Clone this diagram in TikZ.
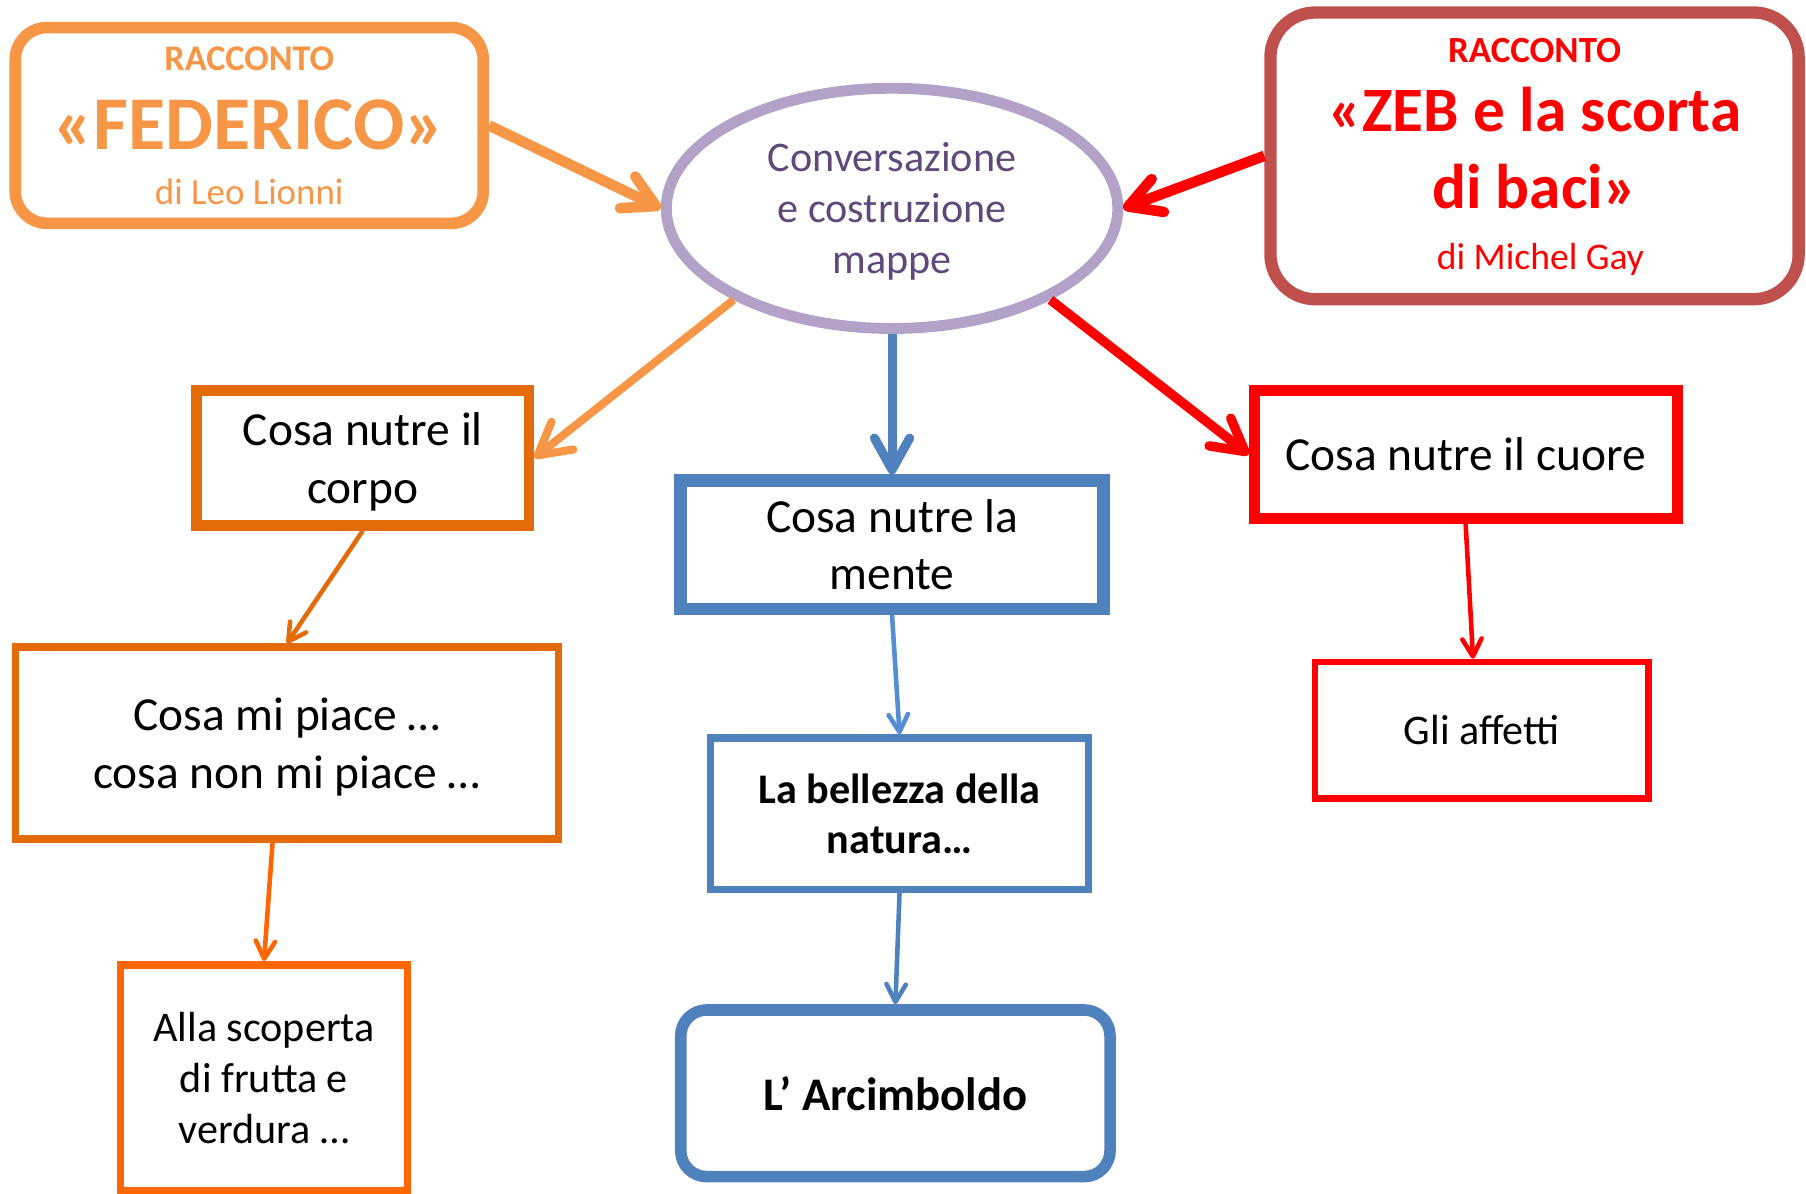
\documentclass[tikz,border=0pt]{standalone}
\usepackage{fontspec}
\setmainfont{Carlito}
\usetikzlibrary{arrows.meta,shapes.geometric}

\definecolor{fedorange}{HTML}{F79646}
\definecolor{corpoorange}{HTML}{E36C09}
\definecolor{allaorange}{HTML}{FF6600}
\definecolor{zebframe}{HTML}{C0504D}
\definecolor{vivid}{HTML}{FF0000}
\definecolor{lilac}{HTML}{B2A2C7}
\definecolor{plum}{HTML}{5F497A}
\definecolor{steel}{HTML}{4F81BD}
\definecolor{sky}{HTML}{558ED5}

\tikzset{
	box/.style={draw, rectangle, align=center, inner sep=0pt},
	bodytext/.style={font=\fontsize{13.5}{16.5}\selectfont},
	smalltext/.style={font=\fontsize{12}{14.5}\selectfont},
	thickbarb/.style={-{Straight Barb[length=9pt,width=10pt,round]}},
	thinbarb/.style={-{Straight Barb[length=5pt,width=5.5pt,round]}, line width=1.3pt}
}

\begin{document}
\begin{tikzpicture}[x=0.011518cm, y=-0.011518cm]
				\useasboundingbox (0,0) rectangle (1568,1036);
				
				\node[box, rounded corners=0.32cm, draw=fedorange, line width=3.3pt, minimum width=4.681cm, minimum height=1.958cm] (federico) at (216.4,108.9) {};
				\node[anchor=base, text=fedorange, font=\fontsize{10.3}{12}\selectfont\bfseries] (fedtag) at (216.4,61.6) {RACCONTO};
				\node[anchor=base, text=fedorange, font=\fontsize{21.6}{25}\selectfont\bfseries] (fedtitle) at (216.4,130.2) {«FEDERICO»};
				\node[anchor=base, text=fedorange, font=\fontsize{10.5}{12.5}\selectfont] (fedauthor) at (216.4,177.4) {di Leo Lionni};
				
				\node[box, rounded corners=0.45cm, draw=zebframe, line width=3.5pt, minimum width=5.283cm, minimum height=2.868cm] (zeb) at (1332.3,135.3) {};
				\node[anchor=base, text=vivid, font=\fontsize{10.5}{12.5}\selectfont\bfseries] (zebtag) at (1332.3,54.4) {RACCONTO};
				\node[anchor=base, text=vivid, font=\fontsize{18}{22}\selectfont\bfseries] (zebtitle) at (1332.6,114.3) {«ZEB e la scorta};
				\node[anchor=base, text=vivid, font=\fontsize{18}{22}\selectfont\bfseries] (zebtitletwo) at (1332.3,180.9) {di baci»};
				\node[anchor=base, text=vivid, font=\fontsize{10.7}{12.5}\selectfont] (zebauthor) at (1337.4,234.4) {di Michel Gay};
				
				\node[ellipse, draw=lilac, line width=3.1pt, minimum width=4.516cm, minimum height=2.403cm, align=center, text depth=0pt, text=plum, font=\fontsize{12}{14.5}\selectfont] (conv) at (774.5,180.9) {Conversazione\\e costruzione\\mappe};
				
				\node[box, bodytext, text depth=0pt, draw=corpoorange, line width=3.1pt, minimum width=3.325cm, minimum height=1.348cm] (corpo) at (315,397.5) {Cosa nutre il\\corpo};
				\node[box, bodytext, draw=steel, line width=3.5pt, minimum width=4.231cm, minimum height=1.285cm] (mente) at (774.5,472.9) {Cosa nutre la\\mente};
				\node[box, bodytext, draw=vivid, line width=3.1pt, minimum width=4.232cm, minimum height=1.283cm] (cuore) at (1272.5,394.5) {Cosa nutre il cuore};
				
				\node[box, bodytext, text depth=0pt, draw=corpoorange, line width=2.2pt, minimum width=5.433cm, minimum height=1.917cm] (piace) at (249.2,645.2) {Cosa mi piace …\\cosa non mi piace …};
				\node[box, smalltext, draw=allaorange, line width=2.2pt, minimum width=2.871cm, minimum height=2.259cm] (alla) at (229.2,935.8) {Alla scoperta\\di frutta e\\verdura …};
				
				\node[box, draw=steel, line width=2.1pt, minimum width=3.784cm, minimum height=1.515cm, font=\fontsize{12}{14.3}\selectfont\bfseries] (bellezza) at (781,706.5) {La bellezza della\\natura…};
				\node[box, rounded corners=0.26cm, draw=steel, line width=3.3pt, minimum width=4.294cm, minimum height=1.667cm, font=\fontsize{13.3}{16}\selectfont\bfseries] (arcimboldo) at (777.4,949.2) {L’ Arcimboldo};
				
				\node[box, smalltext, draw=vivid, line width=1.9pt, minimum width=3.333cm, minimum height=1.363cm] (affetti) at (1286.4,634) {Gli affetti};
				
				\draw[thickbarb, fedorange, line width=3pt] (federico.east) -- (conv.west);
				\draw[thickbarb, vivid, line width=3pt] (zeb.west) -- (conv.east);
				\draw[thickbarb, fedorange, line width=2.3pt] (conv.210) -- (corpo.east);
				\draw[thickbarb, steel, line width=2.6pt] (conv.south) -- (mente.north);
				\draw[thickbarb, vivid, line width=2.7pt] (conv.330) -- (cuore.west);
				
				\draw[thinbarb, corpoorange] (corpo.south) -- (piace.north);
				\draw[thinbarb, allaorange] ([xshift=-0.145cm]piace.south) -- (alla.north);
				\draw[thinbarb, sky] (mente.south) -- (bellezza.north);
				\draw[thinbarb, steel] (bellezza.south) -- (arcimboldo.north);
				\draw[thinbarb, vivid] (cuore.south) -- ([xshift=-0.086cm]affetti.north);
			\end{tikzpicture}
\end{document}
